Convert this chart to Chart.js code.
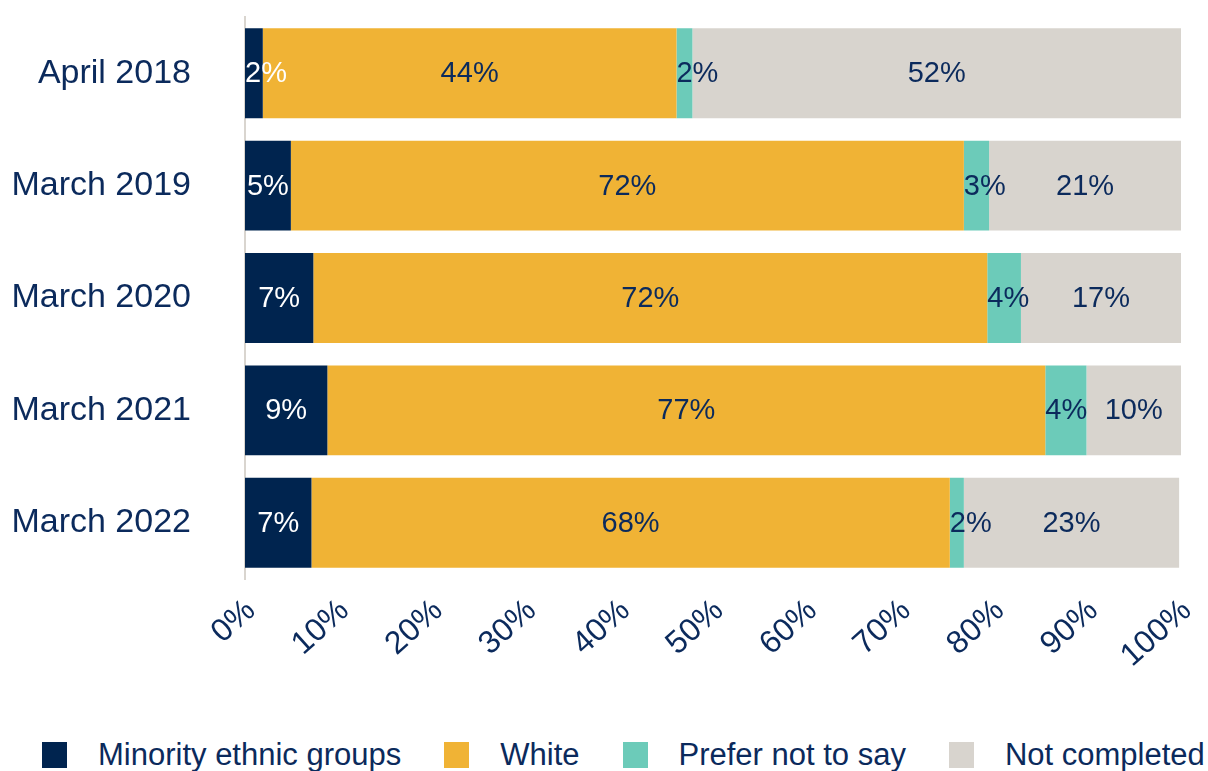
<!DOCTYPE html>
<html>
<head>
<meta charset="utf-8">
<script src="https://cdn.jsdelivr.net/npm/chart.js@4/dist/chart.umd.min.js"></script>
<style>
    html, body { margin: 0; padding: 0; background: #fff; }
    #wrap { position: relative; width: 1208px; height: 771px; overflow: hidden; }
    #box { position: absolute; left: 0; top: 0; width: 1208px; height: 730px; }
    #legend {
        position: absolute; left: 42px; top: 737px; display: flex; align-items: center;
        font-family: "Liberation Sans", Arial, sans-serif; font-size: 31px; line-height: 36px; color: #0b2a5c;
        white-space: nowrap;
    }
    #legend .item { display: flex; align-items: center; margin-right: 43px; }
    #legend .sw { width: 25px; height: 26px; margin-right: 31px; }
</style>
</head>
<body>
<div id="wrap">
    <div id="box"><canvas id="grafico"></canvas></div>
    <div id="legend"></div>
</div>
<script>
// Dados (percentual de cada grupo)
const periodos = ['April 2018', 'March 2019', 'March 2020', 'March 2021', 'March 2022'];
const minoria = [1.9, 4.9, 7.3, 8.8, 7.1];
const brancos = [44.2, 71.9, 72.0, 76.7, 68.2];
const preferiuNaoDizer = [1.7, 2.7, 3.6, 4.4, 1.5];
const naoPreenchido = [52.2, 20.5, 17.1, 10.1, 23.0];
const ticksX = [0, 10, 20, 30, 40, 50, 60, 70, 80, 90, 100];

const NAVY = '#0b2a5c';
const FONTE = '"Liberation Sans", Arial, sans-serif';

const series = [
    { label: 'Minority ethnic groups', data: minoria, cor: '#00244f', texto: '#ffffff' },
    { label: 'White', data: brancos, cor: '#f0b335', texto: NAVY },
    { label: 'Prefer not to say', data: preferiuNaoDizer, cor: '#6ccbb9', texto: NAVY },
    { label: 'Not completed', data: naoPreenchido, cor: '#d8d4ce', texto: NAVY }
];

// Rótulos dentro das barras
const rotulosBarras = {
    id: 'rotulosBarras',
    afterDatasetsDraw(chart) {
        const ctx = chart.ctx;
        ctx.save();
        ctx.font = '29px ' + FONTE;
        ctx.textBaseline = 'middle';
        ctx.textAlign = 'left';
        chart.data.datasets.forEach((ds, i) => {
            const meta = chart.getDatasetMeta(i);
            meta.data.forEach((bar, j) => {
                const txt = Math.round(ds.data[j]) + '%';
                const w = ctx.measureText(txt).width;
                const ini = Math.min(bar.x, bar.base);
                const meio = (bar.x + bar.base) / 2;
                const x = Math.max(meio - w / 2, ini);
                ctx.fillStyle = ds.corTexto;
                ctx.fillText(txt, x, bar.y + 1);
            });
        });
        ctx.restore();
    }
};

// Sem margens extras calculadas pelo Chart.js
function semPadding(s) {
    s.paddingTop = 0;
    s.paddingBottom = 0;
    s.paddingLeft = 0;
    s.paddingRight = 0;
}

const ctx = document.getElementById('grafico').getContext('2d');
new Chart(ctx, {
    type: 'bar',
    data: {
        labels: periodos,
        datasets: series.map(s => ({
            label: s.label,
            data: s.data,
            backgroundColor: s.cor,
            corTexto: s.texto,
            borderWidth: 0,
            barPercentage: 0.8,
            categoryPercentage: 1
        }))
    },
    options: {
        indexAxis: 'y',
        responsive: true,
        maintainAspectRatio: false,
        animation: false,
        layout: { padding: { top: 17, right: 27, left: 0, bottom: 0 } },
        plugins: {
            legend: { display: false },
            tooltip: { enabled: false }
        },
        scales: {
            x: {
                stacked: true,
                min: 0,
                max: 100,
                afterFit: s => { s.height = 151; semPadding(s); },
                afterBuildTicks: s => { s.ticks = ticksX.map(v => ({ value: v })); },
                grid: { display: false },
                border: { display: false },
                ticks: {
                    color: NAVY,
                    font: { family: FONTE, size: 32 },
                    minRotation: 42,
                    maxRotation: 42,
                    padding: 5,
                    labelOffset: 6,
                    callback: v => v + '%'
                }
            },
            y: {
                stacked: true,
                afterFit: s => { s.width = 245; semPadding(s); },
                grid: { display: false },
                border: { display: true, color: '#d9d5cf', width: 2 },
                ticks: {
                    color: NAVY,
                    font: { family: FONTE, size: 34 },
                    padding: 46
                }
            }
        }
    },
    plugins: [rotulosBarras]
});

// Legenda em HTML
const legenda = document.getElementById('legend');
series.forEach(s => {
    const item = document.createElement('div');
    item.className = 'item';
    item.innerHTML = `<span class="sw" style="background:${s.cor}"></span><span>${s.label}</span>`;
    legenda.appendChild(item);
});
</script>
</body>
</html>
